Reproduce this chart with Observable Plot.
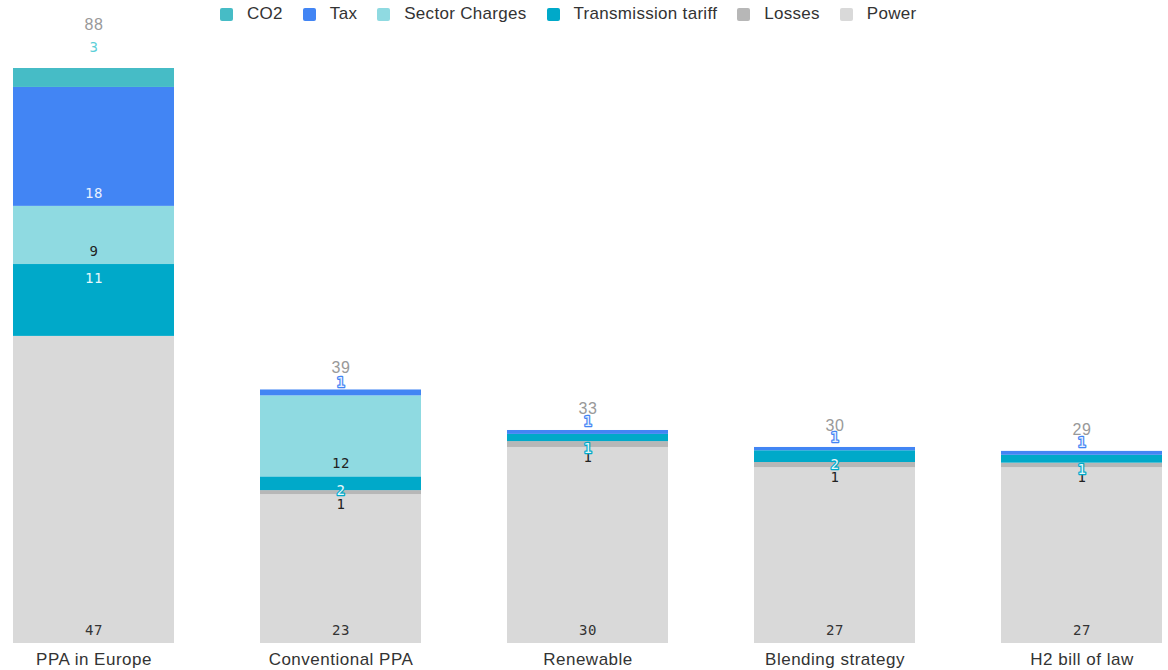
<!DOCTYPE html>
<html>
<head>
<meta charset="utf-8">
<script src="https://cdn.jsdelivr.net/npm/d3@7"></script>
<script src="https://cdn.jsdelivr.net/npm/@observablehq/plot@0.6"></script>
<style>
  html, body { margin: 0; padding: 0; background: #fff; }
  #wrap { position: relative; width: 1168px; height: 670px; }
  #legend { position: absolute; left: 220px; top: 4px; display: flex; align-items: center;
            font-family: "Liberation Sans", Arial, sans-serif; font-size: 17px; letter-spacing: 0.3px; color: #333; }
  #legend .item { display: flex; align-items: center; margin-right: 20px; }
  #legend .sw { width: 13px; height: 13px; border-radius: 2px; margin-right: 14px; }
</style>
</head>
<body>
<div id="wrap">
  <div id="legend"></div>
  <div id="chart"></div>
</div>
<script>
// ---- data ----
const categories = ["PPA in Europe", "Conventional PPA", "Renewable", "Blending strategy", "H2 bill of law"];
const seriesNames = ["Power", "Losses", "Transmission tariff", "Sector Charges", "Tax", "CO2"];
const power        = [47.0, 22.8, 30.0, 26.9, 26.9];
const losses       = [0.0,  0.6,  0.9,  0.8,  0.7];
const transmission = [11.0, 2.1,  1.1,  1.8,  1.2];
const sector       = [8.9,  12.4, 0.0,  0.0,  0.0];
const tax          = [18.2, 0.9,  0.6,  0.5,  0.6];
const co2          = [2.9,  0.0,  0.0,  0.0,  0.0];
const legendOrder  = ["CO2", "Tax", "Sector Charges", "Transmission tariff", "Losses", "Power"];
const colors = {
  "Power": "#d9d9d9",
  "Losses": "#b7b7b7",
  "Transmission tariff": "#00a9c9",
  "Sector Charges": "#8fdae1",
  "Tax": "#4285f4",
  "CO2": "#46bcc6"
};

const valuesBySeries = {
  "Power": power, "Losses": losses, "Transmission tariff": transmission,
  "Sector Charges": sector, "Tax": tax, "CO2": co2
};

// tidy rows with stacked bounds (data units)
const rows = [];
const totals = [];
categories.forEach((c, i) => {
  let cum = 0;
  seriesNames.forEach(s => {
    const v = valuesBySeries[s][i];
    rows.push({category: c, series: s, value: v, y1: cum, y2: cum + v});
    cum += v;
  });
  totals.push({category: c, total: cum, hasCO2: co2[i] > 0});
});

const fmt = v => String(Math.round(v));
const mono = "DejaVu Sans Mono, monospace";
const of = s => rows.filter(d => d.series === s && d.value > 0);

// legend
const legend = document.getElementById("legend");
legendOrder.forEach(s => {
  const it = document.createElement("div");
  it.className = "item";
  it.innerHTML = `<div class="sw" style="background:${colors[s]}"></div><span>${s}</span>`;
  legend.appendChild(it);
});

const chart = Plot.plot({
  width: 1168,
  height: 670,
  marginTop: 68,
  marginBottom: 27,
  marginLeft: 12,
  marginRight: 5,
  style: {fontFamily: "Liberation Sans, Arial, sans-serif", fontSize: "17px", letterSpacing: "0.5px", color: "#333", background: "#fff"},
  x: {domain: categories, paddingInner: 0.35, paddingOuter: 0, tickSize: 0, tickPadding: 9, label: null},
  y: {domain: [0, 88], axis: null},
  color: {domain: seriesNames, range: seriesNames.map(s => colors[s])},
  marks: [
    Plot.barY(rows.filter(d => d.value > 0), {x: "category", y1: "y1", y2: "y2", fill: "series"}),
    // Power: inside bottom
    Plot.text(of("Power"), {x: "category", y: "y1", text: d => fmt(d.value), dy: -13, fill: "#333", fontFamily: mono, fontSize: 14}),
    // Losses: just below the segment
    Plot.text(of("Losses"), {x: "category", y: "y1", text: d => fmt(d.value), dy: 10, fill: "#222", fontFamily: mono, fontSize: 14}),
    // Sector charges: inside bottom
    Plot.text(of("Sector Charges"), {x: "category", y: "y1", text: d => fmt(d.value), dy: -13, fill: "#222", fontFamily: mono, fontSize: 14}),
    // Transmission: inside top
    Plot.text(of("Transmission tariff"), {x: "category", y: "y2", text: d => fmt(d.value), dy: 14, fill: "#e6f8fb", stroke: colors["Transmission tariff"], strokeWidth: 2.5, fontFamily: mono, fontSize: 14}),
    // Tax: inside bottom
    Plot.text(of("Tax"), {x: "category", y: "y1", text: d => fmt(d.value), dy: -13, fill: "#e8f0fe", stroke: colors["Tax"], strokeWidth: 2.5, fontFamily: mono, fontSize: 14}),
    // CO2: above
    Plot.text(of("CO2"), {x: "category", y: "y2", text: d => fmt(d.value), dy: -21, fill: "#5ccfd8", fontFamily: mono, fontSize: 14}),
    // totals
    Plot.text(totals.filter(d => !d.hasCO2), {x: "category", y: "total", text: d => fmt(d.total), dy: -22, fill: "#999", fontSize: 16, letterSpacing: "0px"}),
    Plot.text(totals.filter(d => d.hasCO2), {x: "category", y: "total", text: d => fmt(d.total), dy: -44, fill: "#999", fontSize: 16, letterSpacing: "0px"})
  ]
});
document.getElementById("chart").appendChild(chart);
</script>
</body>
</html>
